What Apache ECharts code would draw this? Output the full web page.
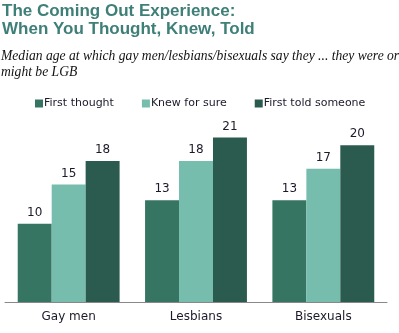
<!DOCTYPE html>
<html><head><meta charset="utf-8">
<script src="https://cdn.jsdelivr.net/npm/echarts@6/dist/echarts.min.js"></script>
<style>html,body{margin:0;padding:0;background:#fff}#c{width:399px;height:333px}</style>
</head><body><div id="c"></div>
<script>
var categories = ["Gay men", "Lesbians", "Bisexuals"];
var firstThought = [10, 13, 13];
var knewForSure = [15, 18, 17];
var firstTold = [18, 21, 20];
var seriesNames = ["First thought", "Knew for sure", "First told someone"];
var colors = ["#367562", "#76BDAE", "#2B5A4E"];

var chart = echarts.init(document.getElementById('c'), null, {renderer: 'canvas'});
function mk(name, data, color) {
  return {
    name: name, type: 'bar', data: data, barGap: 0, barCategoryGap: '20%',
    itemStyle: {color: color},
    label: {show: true, position: 'top', distance: 5, color: '#1a1a2a', fontFamily: 'DejaVu Sans', fontSize: 12},
    emphasis: {disabled: true}
  };
}
chart.setOption({
  animation: false,
  color: colors,
  title: [{
    text: 'The Coming Out Experience:\nWhen You Thought, Knew, Told',
    left: 2, top: 2, padding: 0,
    textStyle: {fontFamily: 'Liberation Sans', fontWeight: 'bold', fontSize: 17, color: '#3E7F78', lineHeight: 18}
  }, {
    text: 'Median age at which gay men/lesbians/bisexuals say they ... they were or\nmight be LGB',
    left: 1, top: 48, padding: 0,
    textStyle: {fontFamily: 'Liberation Serif', fontStyle: 'italic', fontWeight: 'normal', fontSize: 13.6, color: '#111', lineHeight: 16}
  }],
  legend: {
    top: 98, left: 35, padding: 0, itemWidth: 8, itemHeight: 8, itemGap: 28,
    icon: 'rect',
    textStyle: {fontFamily: 'DejaVu Sans', fontSize: 11, color: '#1a1a2a', padding: [0, 0, 0, -4]},
    data: seriesNames
  },
  grid: {left: 5, right: 12, top: 114, bottom: 31, containLabel: false},
  xAxis: {
    type: 'category', data: categories,
    axisLine: {lineStyle: {color: '#888', width: 1}},
    axisTick: {show: false},
    axisLabel: {color: '#1a1a2a', fontFamily: 'DejaVu Sans', fontSize: 12, margin: 9}
  },
  yAxis: {type: 'value', min: 0, max: 24, show: false, splitLine: {show: false}},
  series: [mk(seriesNames[0], firstThought, colors[0]), mk(seriesNames[1], knewForSure, colors[1]), mk(seriesNames[2], firstTold, colors[2])]
});
</script></body></html>
